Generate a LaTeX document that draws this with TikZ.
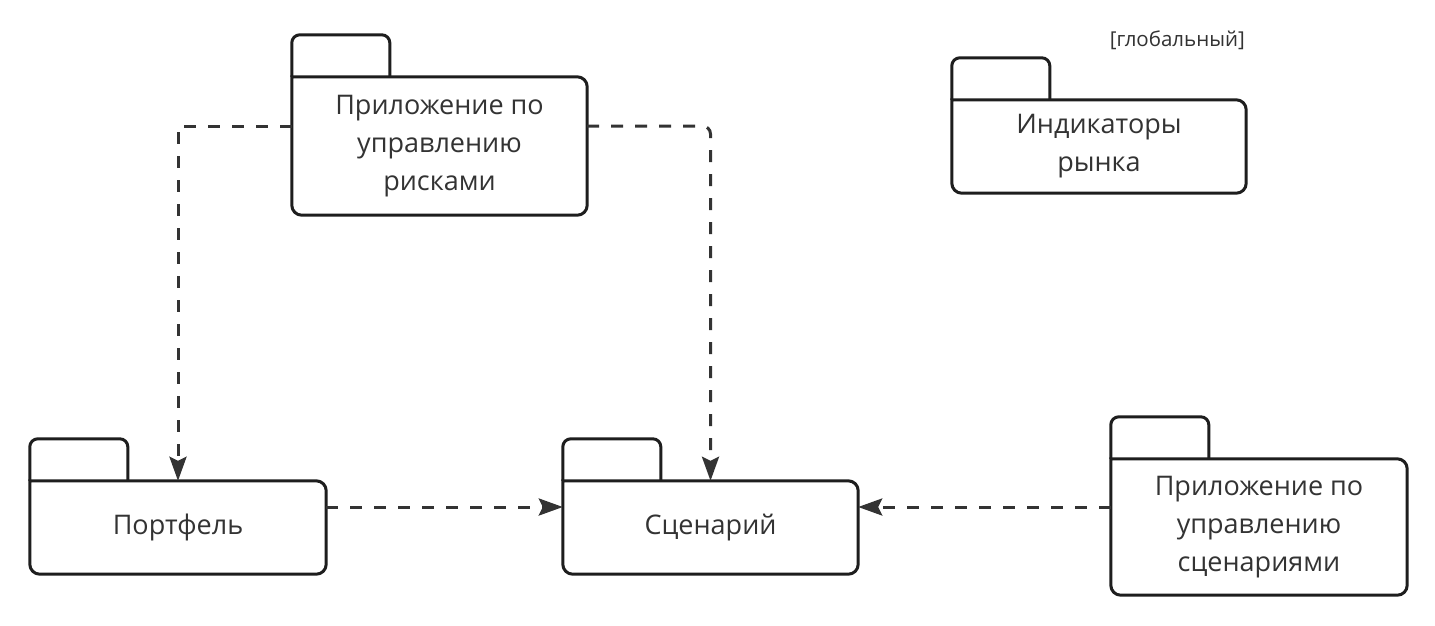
\documentclass[tikz,border=0pt]{standalone}
\usepackage{fontspec}
\setmainfont{Open Sans}
\usetikzlibrary{arrows.meta}
\definecolor{outl}{HTML}{1E1E1E}
\definecolor{dashc}{HTML}{333333}
\definecolor{txt}{HTML}{333333}
\tikzset{
  body/.style={draw=none, rectangle, inner sep=0pt, align=center, text=txt,
    font=\fontsize{27}{38}\selectfont},
  pkg/.style={draw=outl, line width=3pt, line join=round},
  dep/.style={draw=dashc, line width=3pt, dash pattern=on 12pt off 12pt,
    -{Stealth[length=24pt,width=17pt,inset=4pt]}},
}
\newcommand{\pkgframe}[1]{%
  \draw[pkg, rounded corners=8pt] (#1.north west) -- ++(0,-42) -- ++(98,0) -- ++(0,42);
  \draw[pkg, rounded corners=10pt, line cap=rect] (#1.north west) -- (#1.north east) -- (#1.south east) -- (#1.south west) -- (#1.north west);
}
\begin{document}
\begin{tikzpicture}[x=1pt,y=-1pt]
\useasboundingbox[fill=white] (0,0) rectangle (1435,625);
\node[body, minimum width=295pt, minimum height=138pt] (risk) at (439.5,146) {Приложение по\\управлению\\рисками};
\node[body, minimum width=294pt, minimum height=93pt] (ind) at (1099,146.5) {Индикаторы\\рынка};
\node[body, minimum width=296pt, minimum height=93pt] (port) at (178,527.5) {Портфель};
\node[body, minimum width=295pt, minimum height=93pt] (scen) at (710.5,527.5) {Сценарий};
\node[body, minimum width=296pt, minimum height=136pt] (app) at (1259,527) {Приложение по\\управлению\\сценариями};
\node[anchor=east, inner sep=0pt, text=txt, font=\fontsize{20.5}{24}\selectfont] (glob) at (1245,40) {[глобальный]};
\pkgframe{risk}
\pkgframe{ind}
\pkgframe{port}
\pkgframe{scen}
\pkgframe{app}
\draw[dep] (risk.west |- 0,126) -| (port.north);
\draw[dep, rounded corners=8pt] (risk.east |- 0,126) -| (scen.north);
\draw[dep] (port.east |- 0,507) -- (scen.west |- 0,507);
\draw[dep] (app.west |- 0,507) -- (scen.east |- 0,507);
\end{tikzpicture}
\end{document}
